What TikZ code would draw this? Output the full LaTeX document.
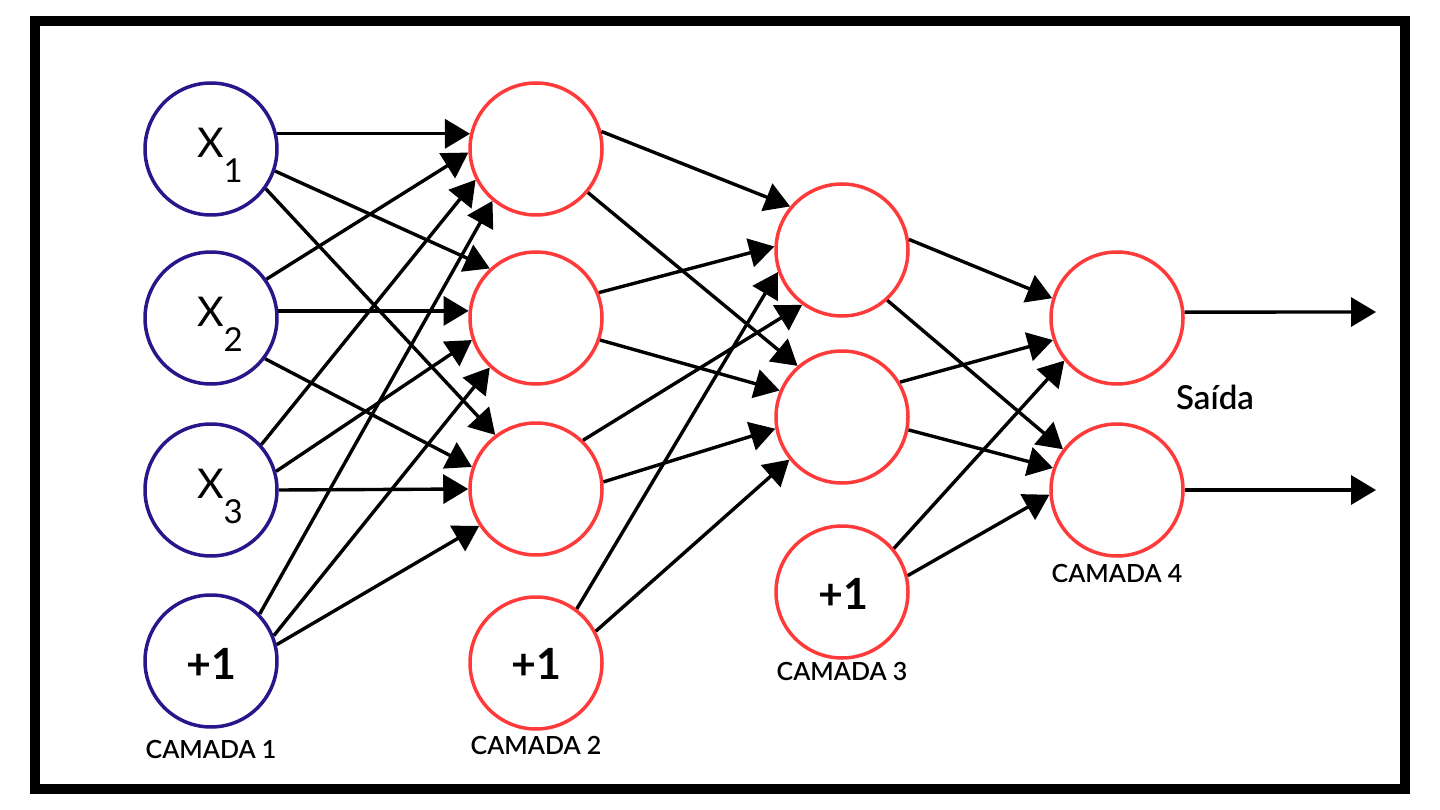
\documentclass[tikz,border=0pt]{standalone}
\usepackage{fontspec}
\setmainfont{Lato}
\newfontfamily\latosemi{Lato Semibold}
\usetikzlibrary{arrows.meta}
\definecolor{inblue}{RGB}{40,22,138}
\definecolor{nred}{RGB}{255,58,58}
\tikzset{
  neuron/.style={circle,line width=3.5pt,minimum size=132pt,inner sep=0pt,fill=white},
  inneuron/.style={neuron,draw=inblue},
  rneuron/.style={neuron,draw=nred},
  conn/.style={line width=3.4pt,-{Triangle[length=25pt,width=29pt]}},
  xlbl/.style={inner sep=0pt,font=\fontsize{41}{41}\selectfont},
  biaslbl/.style={inner sep=0pt,font=\bfseries\fontsize{43}{43}\selectfont},
  camada/.style={inner sep=0pt,font=\latosemi\fontsize{25}{25}\selectfont},
  outlbl/.style={inner sep=0pt,font=\latosemi\fontsize{33}{33}\selectfont}
}
\newcommand{\xsub}[1]{X\raisebox{-25pt}{\fontsize{33}{33}\selectfont #1}}
\begin{document}
\begin{tikzpicture}[x=1pt,y=-1pt]
\fill[white] (0,0) rectangle (1440,810);
\useasboundingbox (0,0) rectangle (1440,810);
\draw[line width=10pt] (34.5,21) rectangle (1405,789);

% layer 1
\node[inneuron] (x1) at (211,149) {};
\node[inneuron] (x2) at (211,318) {};
\node[inneuron] (x3) at (211,490) {};
\node[inneuron] (b1) at (211,661) {};
% layer 2
\node[rneuron] (h1) at (536,149) {};
\node[rneuron] (h2) at (536,318) {};
\node[rneuron] (h3) at (536,489) {};
\node[rneuron] (b2) at (536,663) {};
% layer 3
\node[rneuron] (m1) at (842,250) {};
\node[rneuron] (m2) at (842,417) {};
\node[rneuron] (b3) at (842,592) {};
% layer 4
\node[rneuron] (o1) at (1117,318) {};
\node[rneuron] (o2) at (1117,490) {};

% texts
\node[xlbl] (tx1) at (220,155) {\xsub{1}};
\node[xlbl] (tx2) at (220,324) {\xsub{2}};
\node[xlbl] (tx3) at (220,496) {\xsub{3}};
\node[biaslbl] (tb1) at (211,664) {+1};
\node[biaslbl] (tb2) at (536,664) {+1};
\node[biaslbl] (tb3) at (843,594) {+1};
\node[camada] (c1) at (211,749) {CAMADA 1};
\node[camada] (c2) at (536,745) {CAMADA 2};
\node[camada] (c3) at (842,671) {CAMADA 3};
\node[camada] (c4) at (1117,573) {CAMADA 4};
\node[outlbl] (sa) at (1215,397) {Saída};

% layer 1 -> 2
\draw[conn] (x1.13) -- (h1.167);
\draw[conn] (x1.-19) -- (h2.133);
\draw[conn] (x1.-36) -- (h3.127);
\draw[conn] (x2.35) -- (h1.183);
\draw[conn] (x2.6) -- (h2.174);
\draw[conn] (x2.-37) -- (h3.161);
\draw[conn] (x3.42) -- (h1.207);
\draw[conn] (x3.16) -- (h2.199);
\draw[conn] (x3.0) -- (h3.180);
\draw[conn] (b1.44) -- (h1.230);
\draw[conn] (b1.22) -- (h2.227);
\draw[conn] (b1.14) -- (h3.213);
% layer 2 -> 3
\draw[conn] (h1.15) -- (m1.140);
\draw[conn] (h1.-40) -- (m2.131);
\draw[conn] (h2.22) -- (m1.177);
\draw[conn] (h2.-19) -- (m2.157);
\draw[conn] (h3.46) -- (m1.234);
\draw[conn] (h3.6) -- (m2.190);
\draw[conn] (b2.53) -- (m1.199);
\draw[conn] (b2.28) -- (m2.219);
% layer 3 -> 4
\draw[conn] (m1.9) -- (o1.163);
\draw[conn] (m1.-48) -- (o2.143);
\draw[conn] (m2.31) -- (o1.199);
\draw[conn] (m2.-11) -- (o2.161);
\draw[conn] (b3.40) -- (o1.219);
\draw[conn] (b3.14) -- (o2.184);
% outputs
\coordinate (out1) at (1376,312);
\coordinate (out2) at (1376,490);
\draw[conn] (o1.5) -- (out1);
\draw[conn] (o2.0) -- (out2);
\end{tikzpicture}
\end{document}
